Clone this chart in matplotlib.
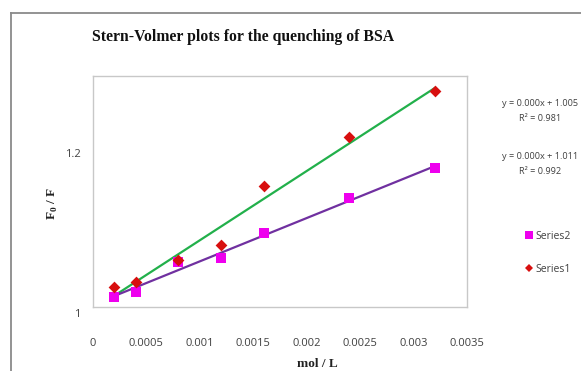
import numpy as np
import matplotlib
matplotlib.use("Agg")
import matplotlib.pyplot as plt
from matplotlib.lines import Line2D
import matplotlib.transforms as mtransforms

# Data
conc = [0.0002, 0.0004, 0.0008, 0.0012, 0.0016, 0.0024, 0.0032]
series1 = [1.0265, 1.032, 1.061, 1.081, 1.157, 1.2205, 1.2806]
series2 = [1.0135, 1.020, 1.058, 1.064, 1.096, 1.141, 1.180]
xticks = [0, 0.0005, 0.001, 0.0015, 0.002, 0.0025, 0.003, 0.0035]
xticklabels = ["0", "0.0005", "0.001", "0.0015", "0.002", "0.0025", "0.003", "0.0035"]
yticks = [1.0, 1.2]
yticklabels = ["1", "1.2"]
eq1 = ["y = 0.000x + 1.005", "R² = 0.981"]
eq2 = ["y = 0.000x + 1.011", "R² = 0.992"]

plt.rcParams["mathtext.fontset"] = "custom"
plt.rcParams["mathtext.bf"] = "Liberation Serif:bold"
plt.rcParams["mathtext.rm"] = "Liberation Serif:bold"

W, H = 581, 371
fig = plt.figure(figsize=(W / 100, H / 100), dpi=100)
fig.patch.set_facecolor("white")

# outer chart frame (left and top only visible)
fig.add_artist(Line2D([11 / W, 11 / W], [0, 1 - 13 / H], color="#8a8a8a", lw=1.3))
fig.add_artist(Line2D([11 / W, 1], [1 - 13 / H, 1 - 13 / H], color="#8a8a8a", lw=1.3))

left, right, top, bottom = 93, 467, 76, 307
ax = fig.add_axes([left / W, 1 - bottom / H, (right - left) / W, (bottom - top) / H])
for s in ax.spines.values():
    s.set_color("#c8c8c8")
    s.set_linewidth(1.0)

x = np.array(conc)
s1 = np.array(series1)
s2 = np.array(series2)

# trendlines (linear fit)
xl = np.array([x.min(), x.max()])
p1 = np.polyfit(x, s1, 1)
p2 = np.polyfit(x, s2, 1)
ax.plot(xl, np.polyval(p1, xl), color="#22b04b", lw=1.6, zorder=2)
ax.plot(xl, np.polyval(p2, xl), color="#7030a0", lw=1.6, zorder=2)

ax.scatter(x, s2, marker="s", s=44, color="#ee00ee", zorder=3, linewidths=0)
ax.scatter(x, s1, marker="D", s=36, color="#d80f0f", zorder=4, linewidths=0)

ax.set_xlim(0, 0.0035)
ax.set_ylim(1.0, 1.3)
ax.set_xticks(xticks)
ax.set_xticklabels(xticklabels)
ax.set_yticks(yticks)
ax.set_yticklabels(yticklabels)
ax.tick_params(axis="both", length=0, labelsize=8, labelcolor="#404040")
ax.tick_params(axis="x", pad=22)
ax.tick_params(axis="y", pad=9)
for lab in ax.get_xticklabels() + ax.get_yticklabels():
    lab.set_fontfamily("Open Sans")
# the "1" label sits slightly below the axis line in the reference
ylabs = ax.get_yticklabels()
ylabs[0].set_transform(ylabs[0].get_transform() +
                       mtransforms.ScaledTranslation(0, -6 / 100, fig.dpi_scale_trans))

ax.set_xlabel("mol / L", fontfamily="Liberation Serif", fontweight="bold", fontsize=9.5,
              color="#222222")
ax.xaxis.set_label_coords(0.6, -0.22)
ax.set_ylabel(r"F$_\mathrm{0}$ / F", fontfamily="Liberation Serif", fontweight="bold",
              fontsize=9.5, color="#222222")
ax.yaxis.label.set_va("center")
ax.yaxis.set_label_coords(-0.107, 0.45)

fig.text(243 / W, 1 - 37 / H, "Stern-Volmer plots for the quenching of BSA",
         ha="center", va="center", fontfamily="Liberation Serif", fontweight="bold",
         fontsize=11.3, color="#111111")

for (l1, l2), yy in [(eq1, 104), (eq2, 157)]:
    fig.text(540 / W, 1 - yy / H, l1, ha="center", va="center", fontsize=6.6,
             fontfamily="Open Sans", color="#404040")
    fig.text(540 / W, 1 - (yy + 15) / H, l2, ha="center", va="center", fontsize=6.6,
             fontfamily="Open Sans", color="#404040")

h2 = Line2D([], [], marker="s", ls="none", color="#ee00ee", markersize=6, markeredgewidth=0)
h1 = Line2D([], [], marker="D", ls="none", color="#d80f0f", markersize=4.5, markeredgewidth=0)
leg = fig.legend([h2, h1], ["Series2", "Series1"], loc="center left",
                 bbox_to_anchor=(515 / W, 1 - 253 / H), frameon=False,
                 labelspacing=2.1, handletextpad=0.15, handlelength=0.9,
                 prop={"family": "Open Sans", "size": 7.5})
for t in leg.get_texts():
    t.set_color("#404040")

fig.savefig("out.png", dpi=100, facecolor="white")
